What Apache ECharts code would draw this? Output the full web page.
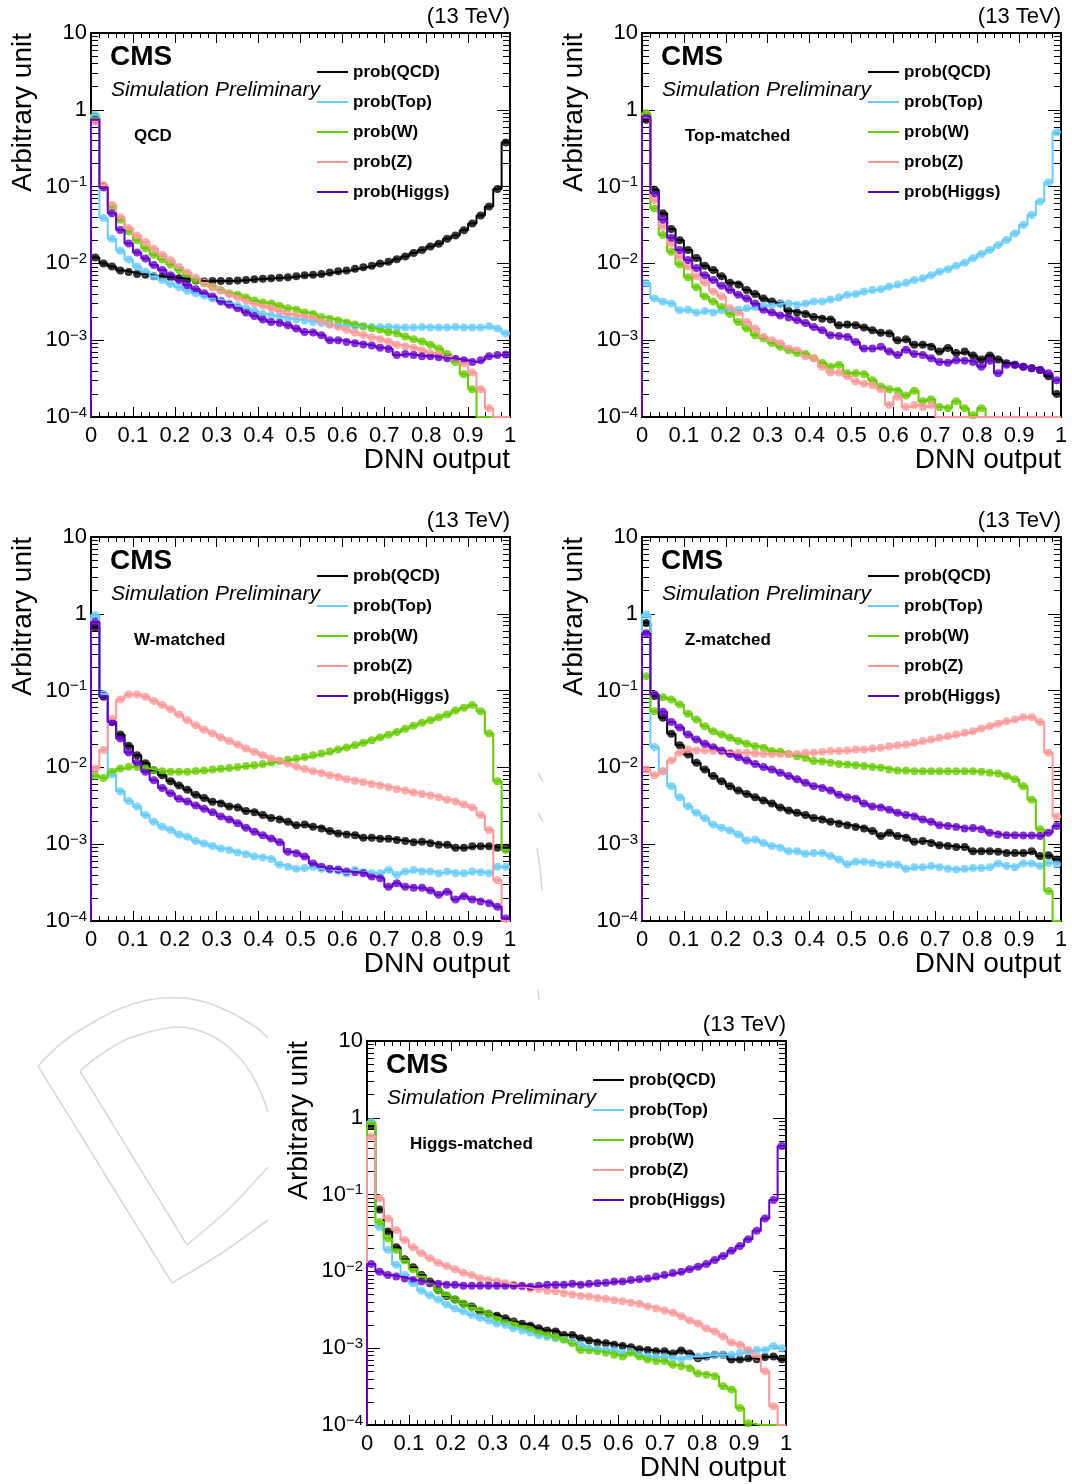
<!DOCTYPE html>
<html>
<head>
<meta charset="utf-8">
<title>DNN output distributions</title>
<script src="https://cdn.jsdelivr.net/npm/echarts@6/dist/echarts.min.js"></script>
<style>
  html, body { margin: 0; padding: 0; background: #ffffff; }
  #chart { width: 1072px; height: 1484px; }
</style>
</head>
<body>
<div id="chart"></div>
<script>
// ---- Histogram binning: 50 bins of width 0.02 on [0, 1] ----
const BIN_WIDTH = 0.02;
const Y_MIN = 1e-4;
const Y_MAX = 10;

const seriesNames = ['prob(QCD)', 'prob(Top)', 'prob(W)', 'prob(Z)', 'prob(Higgs)'];
const seriesColors = ['#000000', '#66ccff', '#66cc00', '#ff9999', '#6600cc'];
const panelLabels = ['QCD', 'Top-matched', 'W-matched', 'Z-matched', 'Higgs-matched'];
const xTickLabels = ['0', '0.1', '0.2', '0.3', '0.4', '0.5', '0.6', '0.7', '0.8', '0.9', '1'];
const energyLabel = '(13 TeV)';
const xTitle = 'DNN output';
const yTitle = 'Arbitrary unit';

// ---- Bin contents (arbitrary units), one array per DNN output node ----
// QCD jets
const qcd_probQCD = [0.0119, 0.0100, 0.0091, 0.0081, 0.0077, 0.0073, 0.0071, 0.0068, 0.0067, 0.0066, 0.0064, 0.0062, 0.0060, 0.0058, 0.0059, 0.0059, 0.0059, 0.0060, 0.0061, 0.0062, 0.0063, 0.0064, 0.0065, 0.0066, 0.0068, 0.0070, 0.0071, 0.0073, 0.0076, 0.0079, 0.0081, 0.0085, 0.0089, 0.0093, 0.0100, 0.0105, 0.0113, 0.0123, 0.0137, 0.0150, 0.0166, 0.018, 0.021, 0.023, 0.027, 0.033, 0.042, 0.055, 0.093, 0.375];
const qcd_probTop = [0.86, 0.039, 0.021, 0.0146, 0.0112, 0.0091, 0.0078, 0.0068, 0.0061, 0.0054, 0.0049, 0.0044, 0.0041, 0.0038, 0.0035, 0.0033, 0.0030, 0.0028, 0.0026, 0.0024, 0.0022, 0.0021, 0.0020, 0.0019, 0.00186, 0.0018, 0.00173, 0.00168, 0.0016, 0.00157, 0.00157, 0.00152, 0.00152, 0.00149, 0.00149, 0.00149, 0.00146, 0.00146, 0.00146, 0.00149, 0.00146, 0.00146, 0.00146, 0.00149, 0.00146, 0.00146, 0.00146, 0.00152, 0.00142, 0.00122];
const qcd_probW = [0.78, 0.1, 0.055, 0.037, 0.026, 0.020, 0.0158, 0.013, 0.0112, 0.0097, 0.0082, 0.0069, 0.0061, 0.0055, 0.0050, 0.0045, 0.0041, 0.0039, 0.0036, 0.0033, 0.0031, 0.0030, 0.0028, 0.0026, 0.0025, 0.0023, 0.0022, 0.0020, 0.0019, 0.0018, 0.0017, 0.0016, 0.00151, 0.00143, 0.00137, 0.00127, 0.00122, 0.00112, 0.00103, 0.00096, 0.00087, 0.00078, 0.00066, 0.00052, 0.00036, 0.00023, 0, 0, 0, 0];
const qcd_probZ = [0.70, 0.105, 0.058, 0.040, 0.029, 0.023, 0.019, 0.0155, 0.013, 0.011, 0.0090, 0.0076, 0.0065, 0.0056, 0.0049, 0.0044, 0.0040, 0.0036, 0.0033, 0.0030, 0.0028, 0.0026, 0.0024, 0.0022, 0.0021, 0.0020, 0.0019, 0.00175, 0.0016, 0.0015, 0.00137, 0.00125, 0.00117, 0.00109, 0.00103, 0.00096, 0.00087, 0.00083, 0.00079, 0.00074, 0.00068, 0.00065, 0.00061, 0.00056, 0.0005, 0.00038, 0.00023, 0.00013, 0, 0];
const qcd_probHiggs = [0.75, 0.097, 0.045, 0.0272, 0.0182, 0.0139, 0.0116, 0.0095, 0.0082, 0.0070, 0.0061, 0.0052, 0.0046, 0.0041, 0.0037, 0.0032, 0.0029, 0.0026, 0.0023, 0.00206, 0.00186, 0.00173, 0.00168, 0.00157, 0.00142, 0.00128, 0.00126, 0.00116, 0.0010, 0.0010, 0.00095, 0.00091, 0.00088, 0.00085, 0.00080, 0.00077, 0.00064, 0.00066, 0.00064, 0.00062, 0.00062, 0.00060, 0.00058, 0.00057, 0.00055, 0.00052, 0.00055, 0.00062, 0.00064, 0.00065];

// Top-matched jets
const top_probQCD = [0.74, 0.091, 0.045, 0.028, 0.020, 0.015, 0.0118, 0.0093, 0.0082, 0.0068, 0.0056, 0.0053, 0.0045, 0.0040, 0.0035, 0.0032, 0.0030, 0.0024, 0.0023, 0.0022, 0.0020, 0.0019, 0.00186, 0.00157, 0.0016, 0.00157, 0.00146, 0.00135, 0.00125, 0.00122, 0.0010, 0.00103, 0.00087, 0.00087, 0.00082, 0.00071, 0.00079, 0.00068, 0.00071, 0.00063, 0.00056, 0.00063, 0.00056, 0.0005, 0.00048, 0.00045, 0.00043, 0.00041, 0.00034, 0.0002];
const top_probTop = [0.0055, 0.0035, 0.0032, 0.0030, 0.00246, 0.0025, 0.0023, 0.0024, 0.0023, 0.00246, 0.00246, 0.0025, 0.0026, 0.0027, 0.0028, 0.0029, 0.0030, 0.0030, 0.0029, 0.0030, 0.0032, 0.0032, 0.0034, 0.0036, 0.0039, 0.0040, 0.0043, 0.0045, 0.0046, 0.0050, 0.0053, 0.0056, 0.0061, 0.0064, 0.0070, 0.0078, 0.0084, 0.0093, 0.0102, 0.0117, 0.0133, 0.0150, 0.0174, 0.0202, 0.0246, 0.0316, 0.0427, 0.064, 0.113, 0.51];
const top_probW = [0.9, 0.052, 0.0234, 0.0142, 0.0097, 0.0066, 0.0049, 0.0037, 0.0032, 0.0027, 0.0022, 0.00173, 0.00142, 0.00116, 0.00105, 0.00092, 0.00082, 0.00074, 0.00068, 0.00066, 0.00058, 0.00051, 0.00045, 0.00048, 0.00037, 0.00037, 0.00036, 0.0003, 0.00025, 0.00023, 0.00022, 0.00019, 0.00022, 0.00016, 0.00017, 0.000135, 0.00013, 0.00016, 0.00013, 0.000105, 0.00013, 0, 0, 0, 0, 0, 0, 0, 0, 0];
const top_probZ = [0.8, 0.067, 0.030, 0.018, 0.0122, 0.0091, 0.0068, 0.0056, 0.0043, 0.0037, 0.0026, 0.0023, 0.00173, 0.00142, 0.0011, 0.0010, 0.00091, 0.00078, 0.00074, 0.00062, 0.00058, 0.00045, 0.00038, 0.00038, 0.00034, 0.00029, 0.00027, 0.00026, 0.00023, 0.000143, 0.000183, 0.000135, 0.000143, 0.000135, 0.000143, 0, 0, 0, 0, 0, 0, 0, 0, 0, 0, 0, 0, 0, 0, 0];
const top_probHiggs = [0.82, 0.082, 0.037, 0.0216, 0.015, 0.0111, 0.0087, 0.0070, 0.0061, 0.0051, 0.0045, 0.0039, 0.0035, 0.0030, 0.0025, 0.0023, 0.0021, 0.00198, 0.00183, 0.00168, 0.00149, 0.00135, 0.00116, 0.00113, 0.0011, 0.00095, 0.00078, 0.00078, 0.00082, 0.00071, 0.00064, 0.00075, 0.00066, 0.00064, 0.00058, 0.00052, 0.00051, 0.00055, 0.00054, 0.00052, 0.00045, 0.00054, 0.00037, 0.00048, 0.00048, 0.00045, 0.00043, 0.00041, 0.00037, 0.0003];

// W-matched jets
const w_probQCD = [0.67, 0.083, 0.039, 0.0268, 0.0191, 0.0144, 0.0113, 0.0092, 0.0079, 0.0066, 0.0058, 0.0051, 0.0044, 0.0040, 0.00357, 0.0034, 0.0031, 0.0030, 0.0027, 0.0026, 0.0024, 0.0022, 0.0021, 0.00196, 0.00177, 0.0018, 0.00169, 0.0016, 0.00148, 0.00138, 0.00134, 0.00131, 0.00121, 0.00121, 0.00118, 0.00118, 0.00113, 0.0011, 0.00106, 0.00108, 0.00103, 0.00098, 0.00098, 0.0009, 0.0009, 0.00094, 0.00094, 0.00094, 0.0009, 0.0009];
const w_probTop = [0.96, 0.09, 0.0081, 0.0049, 0.00364, 0.0031, 0.0024, 0.00196, 0.00169, 0.00153, 0.00134, 0.00125, 0.0011, 0.00102, 0.00095, 0.00088, 0.00084, 0.00078, 0.00074, 0.00069, 0.00067, 0.00064, 0.00054, 0.00051, 0.00048, 0.00049, 0.00051, 0.00048, 0.00046, 0.00045, 0.00042, 0.00046, 0.00043, 0.00042, 0.00042, 0.00046, 0.0004, 0.00044, 0.00046, 0.00044, 0.00044, 0.00042, 0.00044, 0.00042, 0.00042, 0.00044, 0.00043, 0.00042, 0.00051, 0.00051];
const w_probW = [0.0078, 0.0073, 0.0088, 0.0097, 0.0102, 0.0101, 0.0097, 0.0092, 0.0089, 0.0088, 0.0088, 0.0088, 0.0090, 0.0091, 0.0094, 0.0096, 0.0098, 0.0101, 0.0104, 0.0107, 0.0111, 0.0116, 0.0121, 0.0126, 0.0131, 0.0137, 0.0144, 0.0152, 0.0161, 0.0171, 0.0182, 0.0195, 0.0209, 0.0226, 0.0245, 0.0266, 0.029, 0.0318, 0.0348, 0.038, 0.041, 0.045, 0.049, 0.055, 0.060, 0.065, 0.054, 0.0276, 0.0066, 0.00084];
const w_probZ = [0.0097, 0.0168, 0.043, 0.0766, 0.089, 0.089, 0.083, 0.073, 0.065, 0.057, 0.049, 0.041, 0.0355, 0.031, 0.0276, 0.0245, 0.0220, 0.0199, 0.0176, 0.0160, 0.0144, 0.0131, 0.0121, 0.0112, 0.0103, 0.0095, 0.0089, 0.0084, 0.0079, 0.0075, 0.0070, 0.0067, 0.0064, 0.0061, 0.0058, 0.0055, 0.0052, 0.0050, 0.0047, 0.0045, 0.0043, 0.0041, 0.0038, 0.0036, 0.0033, 0.0030, 0.0024, 0.00153, 0.00034, 0];
const w_probHiggs = [0.78, 0.085, 0.039, 0.0238, 0.0156, 0.0115, 0.0088, 0.0068, 0.0054, 0.0046, 0.0039, 0.0036, 0.0032, 0.0029, 0.0026, 0.0023, 0.0021, 0.00187, 0.00164, 0.00145, 0.00131, 0.00119, 0.00106, 0.0008, 0.00076, 0.00069, 0.00056, 0.00051, 0.00048, 0.00047, 0.00044, 0.00043, 0.00042, 0.00038, 0.00036, 0.00028, 0.00031, 0.00028, 0.00027, 0.00027, 0.00025, 0.00022, 0.00024, 0.00019, 0.00021, 0.00019, 0.00018, 0.00017, 0.000153, 0.000108];

// Z-matched jets
const z_probQCD = [0.76, 0.085, 0.0442, 0.0274, 0.0195, 0.0147, 0.0115, 0.0094, 0.0077, 0.0066, 0.0057, 0.0050, 0.0045, 0.0041, 0.0037, 0.0034, 0.0030, 0.00275, 0.00257, 0.0024, 0.0022, 0.0021, 0.00196, 0.00185, 0.00177, 0.00167, 0.0016, 0.00148, 0.00128, 0.00141, 0.00128, 0.00121, 0.00108, 0.0011, 0.00104, 0.00097, 0.00095, 0.00092, 0.00092, 0.00081, 0.00081, 0.00081, 0.0008, 0.00077, 0.00077, 0.00077, 0.00081, 0.0007, 0.00072, 0.00063];
const z_probTop = [0.98, 0.0185, 0.0089, 0.0057, 0.0041, 0.00313, 0.00257, 0.00217, 0.00181, 0.00164, 0.00151, 0.00134, 0.00112, 0.00115, 0.00104, 0.00095, 0.0009, 0.00081, 0.00081, 0.00075, 0.00077, 0.00077, 0.0007, 0.00063, 0.00055, 0.00059, 0.00059, 0.00057, 0.00054, 0.00055, 0.00054, 0.00048, 0.0005, 0.0005, 0.00052, 0.0005, 0.00048, 0.00047, 0.00048, 0.00049, 0.00049, 0.0005, 0.00056, 0.00052, 0.0005, 0.00056, 0.00056, 0.00052, 0.00057, 0.00055];
const z_probW = [0.154, 0.054, 0.082, 0.0766, 0.066, 0.0498, 0.042, 0.0344, 0.0296, 0.0268, 0.0243, 0.022, 0.0203, 0.0189, 0.018, 0.0163, 0.016, 0.015, 0.014, 0.0133, 0.0121, 0.0119, 0.0115, 0.0111, 0.0109, 0.0107, 0.0104, 0.0101, 0.0099, 0.0094, 0.0091, 0.0091, 0.0089, 0.0089, 0.0089, 0.0089, 0.0089, 0.0089, 0.0089, 0.0089, 0.0088, 0.0085, 0.0083, 0.0077, 0.0070, 0.0057, 0.0038, 0.00156, 0.000245, 0];
const z_probZ = [0.0094, 0.0079, 0.0089, 0.0123, 0.0155, 0.0171, 0.0166, 0.0166, 0.0163, 0.016, 0.0155, 0.0155, 0.0155, 0.0152, 0.015, 0.015, 0.015, 0.015, 0.015, 0.0155, 0.0155, 0.016, 0.0163, 0.0163, 0.0166, 0.0171, 0.0171, 0.0176, 0.018, 0.0189, 0.0195, 0.0199, 0.0209, 0.022, 0.0231, 0.0243, 0.0255, 0.0268, 0.0282, 0.0296, 0.032, 0.0344, 0.0369, 0.040, 0.042, 0.045, 0.045, 0.039, 0.0155, 0.0023];
const z_probHiggs = [0.56, 0.089, 0.053, 0.039, 0.033, 0.0268, 0.0231, 0.0203, 0.0183, 0.0166, 0.015, 0.0136, 0.0123, 0.0111, 0.0101, 0.0094, 0.0085, 0.0077, 0.007, 0.0063, 0.0057, 0.0054, 0.005, 0.0044, 0.0041, 0.0039, 0.0034, 0.0031, 0.003, 0.0028, 0.00257, 0.0024, 0.0023, 0.0021, 0.00196, 0.00177, 0.00172, 0.00167, 0.0016, 0.00163, 0.00156, 0.00141, 0.00134, 0.00131, 0.00131, 0.0013, 0.0013, 0.00128, 0.00141, 0.00172];

// Higgs-matched jets
const h_probQCD = [0.78, 0.064, 0.033, 0.0206, 0.0144, 0.0113, 0.009, 0.0074, 0.0057, 0.0048, 0.0043, 0.0038, 0.0035, 0.003, 0.0028, 0.00264, 0.00246, 0.00223, 0.00208, 0.00196, 0.00182, 0.0017, 0.00165, 0.00149, 0.00149, 0.00135, 0.00126, 0.00119, 0.00116, 0.00111, 0.00107, 0.00103, 0.00097, 0.00095, 0.00091, 0.00091, 0.00085, 0.00093, 0.00085, 0.00074, 0.00078, 0.00082, 0.00082, 0.00071, 0.00071, 0.00074, 0.00072, 0.00077, 0.00078, 0.00072];
const h_probTop = [0.88, 0.0375, 0.0191, 0.0122, 0.009, 0.007, 0.0056, 0.0049, 0.0043, 0.0037, 0.0033, 0.003, 0.0027, 0.0025, 0.0023, 0.0021, 0.002, 0.0018, 0.0017, 0.0016, 0.00146, 0.0014, 0.00135, 0.0013, 0.0012, 0.00111, 0.001, 0.00097, 0.00095, 0.00094, 0.00087, 0.00091, 0.00082, 0.00078, 0.00077, 0.00077, 0.00074, 0.00072, 0.00078, 0.00078, 0.0008, 0.00082, 0.00082, 0.00082, 0.00087, 0.00091, 0.00095, 0.00095, 0.00107, 0.001];
const h_probW = [0.85, 0.044, 0.0268, 0.019, 0.0139, 0.0107, 0.0086, 0.007, 0.0057, 0.0049, 0.0043, 0.0038, 0.0034, 0.0031, 0.0028, 0.0025, 0.0022, 0.0021, 0.0019, 0.00178, 0.0016, 0.0015, 0.0014, 0.0013, 0.00116, 0.00095, 0.00094, 0.00091, 0.00087, 0.00082, 0.00078, 0.00087, 0.00078, 0.00071, 0.00068, 0.00068, 0.00061, 0.00058, 0.00055, 0.00047, 0.00045, 0.00043, 0.00032, 0.00029, 0.000166, 0.000105, 0, 0, 0, 0];
const h_probZ = [0.57, 0.089, 0.049, 0.0346, 0.0257, 0.0206, 0.0172, 0.0148, 0.013, 0.0118, 0.0107, 0.0096, 0.009, 0.0081, 0.0077, 0.0074, 0.007, 0.0067, 0.0063, 0.006, 0.0059, 0.0056, 0.0055, 0.0052, 0.005, 0.0048, 0.0047, 0.0045, 0.0044, 0.0042, 0.0041, 0.0039, 0.0038, 0.0035, 0.0033, 0.0031, 0.0029, 0.0026, 0.0023, 0.0021, 0.0018, 0.00165, 0.00142, 0.00119, 0.00111, 0.00095, 0.00078, 0.0005, 0.000175, 0];
const h_probHiggs = [0.0125, 0.0099, 0.009, 0.0086, 0.0081, 0.0077, 0.0074, 0.007, 0.0069, 0.0067, 0.0067, 0.0065, 0.0065, 0.0065, 0.0065, 0.0065, 0.0065, 0.0065, 0.0065, 0.0063, 0.0065, 0.0067, 0.0067, 0.0067, 0.0069, 0.0067, 0.0069, 0.007, 0.0071, 0.0074, 0.0074, 0.0077, 0.0079, 0.0081, 0.0086, 0.009, 0.0095, 0.0099, 0.0107, 0.0115, 0.0125, 0.0141, 0.0159, 0.0186, 0.0214, 0.0262, 0.0339, 0.049, 0.085, 0.43];

const panelValues = [
  [qcd_probQCD, qcd_probTop, qcd_probW, qcd_probZ, qcd_probHiggs],
  [top_probQCD, top_probTop, top_probW, top_probZ, top_probHiggs],
  [w_probQCD, w_probTop, w_probW, w_probZ, w_probHiggs],
  [z_probQCD, z_probTop, z_probW, z_probZ, z_probHiggs],
  [h_probQCD, h_probTop, h_probW, h_probZ, h_probHiggs]
];

// ---- Layout ----
const FONT = '"Liberation Sans", Arial, Helvetica, sans-serif';
const BOX_W = 419;
const BOX_H = 384;
const panelOrigins = [[91, 33], [642, 33], [91, 537], [642, 537], [367, 1041]];

// Histogram outline: rises from the floor at x = 0, one flat step per bin.
function histogramOutline(values) {
  const pts = [[0, Y_MIN]];
  values.forEach(function (v, i) {
    pts.push([+(i * BIN_WIDTH).toFixed(4), Math.max(v, Y_MIN)]);
  });
  pts.push([1, Math.max(values[values.length - 1], Y_MIN)]);
  return pts;
}

// Markers at bin centres for non-empty bins.
function binMarkers(values) {
  const pts = [];
  values.forEach(function (v, i) {
    if (v > 0) pts.push([+((i + 0.5) * BIN_WIDTH).toFixed(4), v]);
  });
  return pts;
}

function logLabel(v) {
  const e = Math.round(Math.log10(v));
  if (e === 1) return '10';
  if (e === 0) return '1';
  return '{b|10}{s|\u2212' + (-e) + '}';
}

function textEl(x, y, text, font, align) {
  return {
    type: 'text', x: x, y: y, silent: true,
    style: { text: text, font: font, fill: '#000', textAlign: align, textVerticalAlign: 'middle', align: align, verticalAlign: 'middle' }
  };
}

const grids = [], xAxes = [], yAxes = [], series = [], legends = [], graphics = [];

panelOrigins.forEach(function (o, p) {
  const L = o[0], T = o[1];
  grids.push({ left: L, top: T, width: BOX_W, height: BOX_H, containLabel: false, outerBoundsMode: 'none' });

  const frameLine = { show: true, onZero: false, lineStyle: { color: '#000', width: 2 } };
  const xCommon = {
    gridIndex: p, type: 'value', min: 0, max: 1, interval: 0.1,
    axisLine: frameLine,
    axisTick: { show: true, inside: true, length: 10, lineStyle: { color: '#000', width: 1 } },
    minorTick: { show: true, splitNumber: 5, length: 5, lineStyle: { color: '#000', width: 1 } },
    splitLine: { show: false }, minorSplitLine: { show: false }
  };
  xAxes.push(Object.assign({}, xCommon, {
    position: 'bottom',
    axisLabel: {
      show: true, margin: 8, fontSize: 22, color: '#000', fontFamily: FONT,
      formatter: function (v) { return xTickLabels[Math.round(v * 10)]; }
    }
  }));
  xAxes.push(Object.assign({}, xCommon, { position: 'top', axisLabel: { show: false } }));

  const yCommon = {
    gridIndex: p, type: 'log', logBase: 10, min: Y_MIN, max: Y_MAX, interval: 1,
    axisLine: frameLine,
    axisTick: { show: true, inside: true, length: 13, lineStyle: { color: '#000', width: 1 } },
    minorTick: { show: true, splitNumber: 9, length: 7, lineStyle: { color: '#000', width: 1 } },
    splitLine: { show: false }, minorSplitLine: { show: false }
  };
  yAxes.push(Object.assign({}, yCommon, {
    position: 'left',
    axisLabel: {
      show: true, margin: 4, fontSize: 22, color: '#000', fontFamily: FONT,
      formatter: logLabel,
      rich: {
        b: { fontSize: 22, color: '#000', fontFamily: FONT, lineHeight: 24 },
        s: { fontSize: 15, color: '#000', fontFamily: FONT, lineHeight: 15, verticalAlign: 'top' }
      }
    },
    name: yTitle, nameLocation: 'end', nameGap: 0, nameRotate: 90,
    nameTextStyle: { fontSize: 28, color: '#000', fontFamily: FONT, align: 'right', verticalAlign: 'bottom', padding: [0, 0, 54, 0] }
  }));
  yAxes.push(Object.assign({}, yCommon, { position: 'right', axisLabel: { show: false } }));

  panelValues[p].forEach(function (vals, s) {
    series.push({
      type: 'line', name: seriesNames[s], xAxisIndex: 2 * p, yAxisIndex: 2 * p,
      data: histogramOutline(vals), step: 'end', symbol: 'none', showSymbol: false,
      lineStyle: { color: seriesColors[s], width: 2 }, itemStyle: { color: seriesColors[s] },
      clip: true, silent: true, animation: false
    });
    series.push({
      type: 'scatter', name: seriesNames[s], xAxisIndex: 2 * p, yAxisIndex: 2 * p,
      data: binMarkers(vals), symbol: 'circle', symbolSize: 8,
      itemStyle: { color: seriesColors[s] }, silent: true, animation: false
    });
  });

  legends.push({
    data: seriesNames, orient: 'vertical', left: L + 226, top: T + 30,
    icon: 'rect', itemWidth: 31, itemHeight: 2, itemGap: 12, padding: 0,
    selectedMode: false,
    textStyle: { fontSize: 17, fontWeight: 'bold', color: '#000', fontFamily: FONT, lineHeight: 18 }
  });

  graphics.push(
    textEl(L + BOX_W, T - 16, energyLabel, '22px ' + FONT, 'right'),
    textEl(L + BOX_W, T + BOX_H + 43, xTitle, '28px ' + FONT, 'right'),
    textEl(L + 19, T + 24, 'CMS', 'bold 28px ' + FONT, 'left'),
    textEl(L + 20, T + 57, 'Simulation Preliminary', 'italic 21px ' + FONT, 'left'),
    textEl(L + 43, T + 103, panelLabels[p], 'bold 17px ' + FONT, 'left')
  );
});

// Faint background emblem outline in the free lower-left corner
const emblemStyle = { stroke: '#d9d9d9', lineWidth: 1.6, fill: null };
const emblemLines = [
  { pts: [[38, 1066], [63, 1042], [97, 1020], [130, 1005], [163, 998], [197, 1000], [230, 1012], [257, 1028], [268, 1038]], smooth: 0.35 },
  { pts: [[38, 1066], [172, 1283]], smooth: 0 },
  { pts: [[172, 1283], [222, 1253], [268, 1220]], smooth: 0.2 },
  { pts: [[80, 1071], [100, 1055], [130, 1038], [177, 1027], [210, 1035], [237, 1055], [256, 1082], [268, 1112]], smooth: 0.35 },
  { pts: [[80, 1071], [187, 1245]], smooth: 0 },
  { pts: [[187, 1245], [230, 1208], [268, 1167]], smooth: 0.2 },
  { pts: [[538, 773], [543, 782]], smooth: 0 },
  { pts: [[538, 813], [543, 822]], smooth: 0 },
  { pts: [[537, 848], [540, 868], [542, 890]], smooth: 0 },
  { pts: [[538, 990], [539, 1000]], smooth: 0 }
];
emblemLines.forEach(function (ln) {
  graphics.push({ type: 'polyline', z: -10, silent: true, shape: { points: ln.pts, smooth: ln.smooth }, style: emblemStyle });
});

const chart = echarts.init(document.getElementById('chart'), null, { renderer: 'canvas' });
chart.setOption({
  animation: false,
  backgroundColor: '#ffffff',
  textStyle: { fontFamily: FONT },
  grid: grids,
  xAxis: xAxes,
  yAxis: yAxes,
  legend: legends,
  graphic: graphics,
  series: series
});
</script>
</body>
</html>
